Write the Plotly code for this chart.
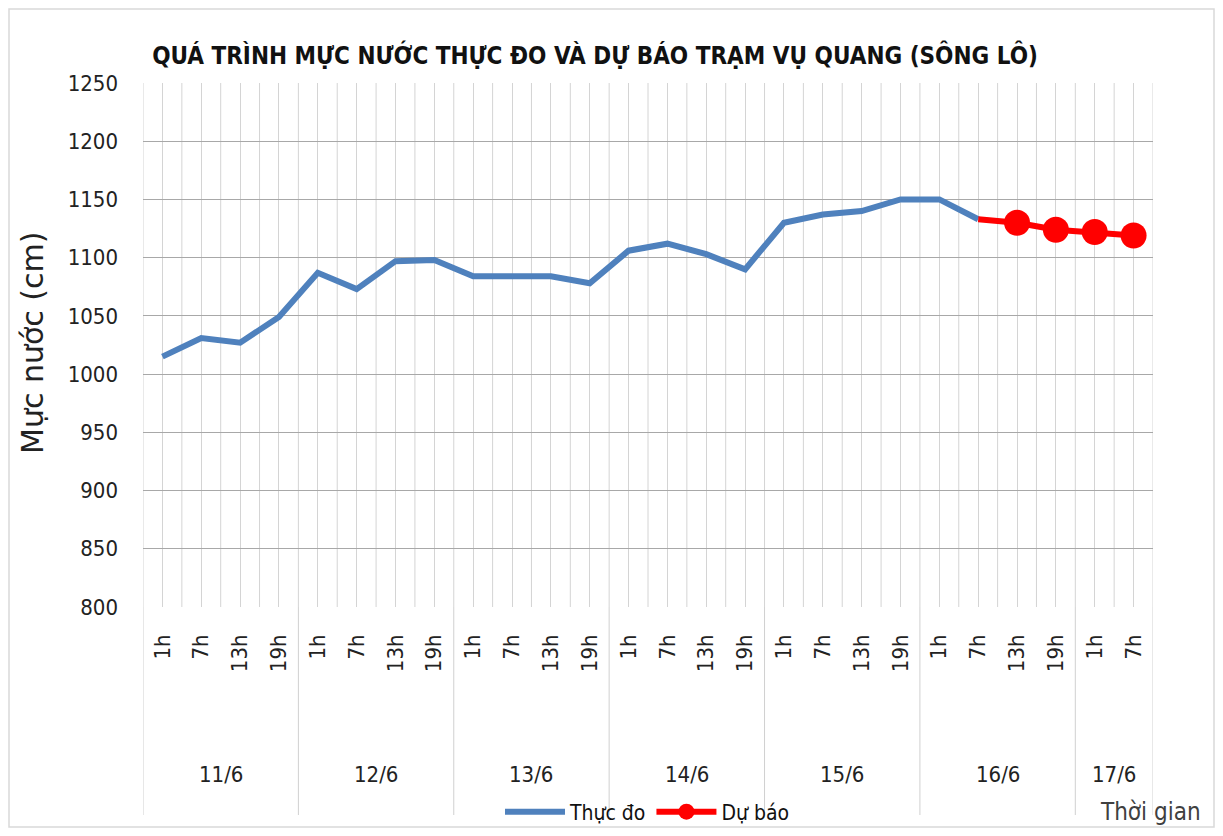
import plotly.graph_objects as go

# ---------------- data ----------------
dates = ["11/6", "12/6", "13/6", "14/6", "15/6", "16/6", "17/6"]
hours_full = ["1h", "7h", "13h", "19h"]
hours_last = ["1h", "7h"]
observed = [1015, 1031, 1027, 1049, 1087, 1073, 1097, 1098, 1084, 1084, 1084, 1078,
            1106, 1112, 1103, 1090, 1130, 1137, 1140, 1150, 1150, 1133]
forecast = [1133, 1130, 1124, 1122, 1119]

title_text = "QUÁ TRÌNH MỰC NƯỚC THỰC ĐO VÀ DỰ BÁO TRẠM VỤ QUANG (SÔNG LÔ)"
y_title = "Mực nước (cm)"
x_title = "Thời gian"

# ---------------- build categories ----------------
day_hours = [hours_full] * 6 + [hours_last]
cats, cat_labels, groups = [], [], []
for d, hs in zip(dates, day_hours):
    start = len(cats)
    for h in hs:
        cats.append(f"{d} {h}")
        cat_labels.append(h)
    groups.append((d, start, len(cats) - 1))

x_obs = cats[:len(observed)]
x_fc = cats[len(observed) - 1:len(observed) - 1 + len(forecast)]

NARROW = "DejaVu Sans Condensed, Liberation Sans Narrow, Arial Narrow, sans-serif"

fig = go.Figure()
fig.add_trace(go.Scatter(
    x=x_obs, y=observed, mode="lines", name="Thực đo",
    line=dict(color="#4f81bd", width=6),
))
fig.add_trace(go.Scatter(
    x=x_fc, y=forecast, mode="lines+markers", name="Dự báo",
    line=dict(color="#ff0000", width=6),
    marker=dict(size=[0] + [26] * (len(forecast) - 1), color="#ff0000",
                opacity=1, line=dict(width=0)),
))

# page has an 8px body margin; work in page coordinates and convert
OFF = 8
W, H = 1223 - 2 * OFF, 836 - 2 * OFF
PL, PR, PT, PB = 143, 1153, 83, 607          # plot box in page pixels
L, R, T, B = PL - OFF, W - (PR - OFF), PT - OFF, H - (PB - OFF)
pw, ph = W - L - R, H - T - B


def px_x(px):
    return (px - OFF - L) / pw


def px_y(py):
    return (H - B - (py - OFF)) / ph


n = len(cats)
shapes = []
# vertical grid at category boundaries
for i in range(n + 1):
    shapes.append(dict(type="line", xref="x", yref="paper", x0=i - 0.5, x1=i - 0.5,
                       y0=0, y1=1, line=dict(color="#d4d4d4", width=1), layer="below"))
# dividers between day groups (extend below axis)
bounds = [g[1] - 0.5 for g in groups] + [groups[-1][2] + 0.5]
for b in bounds:
    shapes.append(dict(type="line", xref="x", yref="paper", x0=b, x1=b,
                       y0=0, y1=px_y(815), line=dict(color="#d0d0d0", width=1),
                       layer="below"))
# outer frame
shapes.append(dict(type="rect", xref="paper", yref="paper",
                   x0=px_x(OFF + 1), x1=px_x(1223 - OFF - 1), y0=px_y(836 - OFF - 1), y1=px_y(OFF + 1),
                   line=dict(color="#d9d9d9", width=1.5), layer="below"))

annotations = []
for d, s, e in groups:
    annotations.append(dict(x=(s + e) / 2, y=px_y(775), xref="x", yref="paper",
                            text=d, showarrow=False, yanchor="middle",
                            font=dict(family=NARROW, size=22, color="#222222")))
annotations.append(dict(x=px_x(1150), y=px_y(812), xref="paper", yref="paper",
                        text=x_title, showarrow=False, xanchor="center", yanchor="middle",
                        font=dict(family=NARROW, size=24, color="#404040")))
annotations.append(dict(x=px_x(32), y=px_y(343), xref="paper", yref="paper",
                        text=y_title, showarrow=False, textangle=-90,
                        xanchor="center", yanchor="middle",
                        font=dict(family="DejaVu Sans, Arial, sans-serif", size=30, color="#222222")))

fig.update_layout(
    width=W, height=H,
    margin=dict(l=L, r=R, t=T, b=B, autoexpand=False),
    paper_bgcolor="white", plot_bgcolor="white",
    title=dict(text=title_text, x=(595 - OFF) / W, y=1 - (56 - OFF) / H,
               xref="container", yref="container", xanchor="center", yanchor="middle",
               font=dict(family=NARROW, size=24, color="#111111", weight="bold")),
    xaxis=dict(type="category", categoryorder="array", categoryarray=cats,
               tickvals=cats, ticktext=cat_labels, tickangle=-90,
               range=[-0.5, n - 0.5], showgrid=True, gridcolor="#d4d4d4", gridwidth=1,
               zeroline=False, showline=False,
               ticks="", ticklabelstandoff=22,
               tickfont=dict(family=NARROW, size=22, color="#222222")),
    yaxis=dict(range=[800, 1250], dtick=50, showgrid=True, gridcolor="#a8a8a8", gridwidth=1,
               zeroline=False, showline=False, ticks="", ticklabelstandoff=24,
               tickfont=dict(family=NARROW, size=22, color="#222222")),
    legend=dict(orientation="h", x=px_x(500), y=px_y(812), xanchor="left", yanchor="middle",
                font=dict(family=NARROW, size=21, color="#111111"),
                bgcolor="rgba(0,0,0,0)", itemwidth=60),
    shapes=shapes,
    annotations=annotations,
    showlegend=True,
)

fig.write_html("out.html")
